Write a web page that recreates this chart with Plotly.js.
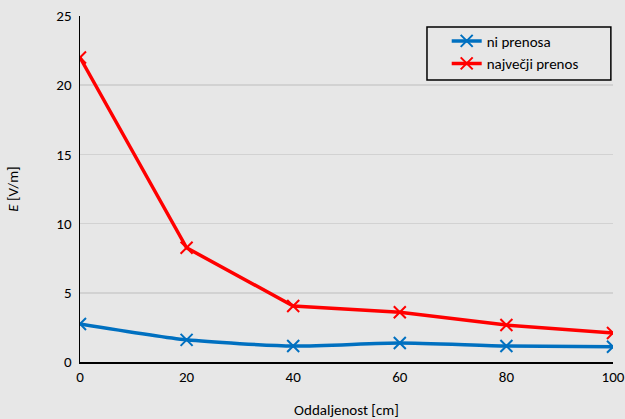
<!DOCTYPE html>
<html>
<head>
<meta charset="utf-8">
<script src="https://cdn.plot.ly/plotly-3.0.1.min.js"></script>
<style>html,body{margin:0;padding:0;background:#e7e7e7;}#chart{width:625px;height:419px;}</style>
</head>
<body>
<div id="chart"></div>
<script>
const distances = [0, 20, 40, 60, 80, 100];
const niPrenosa = [2.75, 1.6, 1.15, 1.37, 1.15, 1.1];
const najvecjiPrenos = [22.0, 8.25, 4.05, 3.6, 2.67, 2.1];
const seriesNames = ['ni prenosa', 'največji prenos'];

const font = {family: 'Carlito, Calibri, "Open Sans", "Noto Sans", sans-serif', size: 15, color: '#000'};

const traces = [
  {x: distances, y: niPrenosa, name: seriesNames[0], mode: 'lines+markers',
   line: {color: '#0070c0', width: 3.5, shape: 'spline', smoothing: 0.6},
   marker: {symbol: 'x-thin', size: 12, line: {color: '#0070c0', width: 2}}},
  {x: distances, y: najvecjiPrenos, name: seriesNames[1], mode: 'lines+markers',
   line: {color: '#ff0000', width: 3.5, shape: 'linear'},
   marker: {symbol: 'x-thin', size: 12, line: {color: '#ff0000', width: 2}}}
];

const layout = {
  width: 625, height: 419,
  margin: {l: 80, r: 12, t: 16, b: 57},
  paper_bgcolor: '#e7e7e7', plot_bgcolor: 'rgba(0,0,0,0)',
  font: font,
  showlegend: true,
  legend: {x: 0.688, y: 0.975, xanchor: 'left', yanchor: 'top',
    bgcolor: 'rgba(0,0,0,0)', borderwidth: 0,
    font: font, tracegroupgap: 0, itemwidth: 30},
  shapes: [{type: 'rect', xref: 'paper', yref: 'paper',
    x0: 0.651, x1: 0.996, y0: 0.815, y1: 0.968,
    line: {color: '#000', width: 1.5}, fillcolor: 'rgba(0,0,0,0)'}],
  xaxis: {range: [0, 100], tickvals: distances, showgrid: false, zeroline: false,
    showline: true, linecolor: '#000', linewidth: 2, ticks: '', ticklen: 0,
    title: {text: 'Oddaljenost [cm]', font: font, standoff: 22}, automargin: false},
  yaxis: {range: [0, 25], dtick: 5, showgrid: true, gridcolor: '#d2d2d2', gridwidth: 1.5,
    zeroline: false, showline: true, linecolor: '#000', linewidth: 1.5, ticks: '',
    ticklabelstandoff: 4,
    title: {text: '<i>E</i> [V/m]', font: font, standoff: 34}, automargin: false}
};

Plotly.newPlot('chart', traces, layout, {displayModeBar: false, staticPlot: true});
</script>
</body>
</html>
